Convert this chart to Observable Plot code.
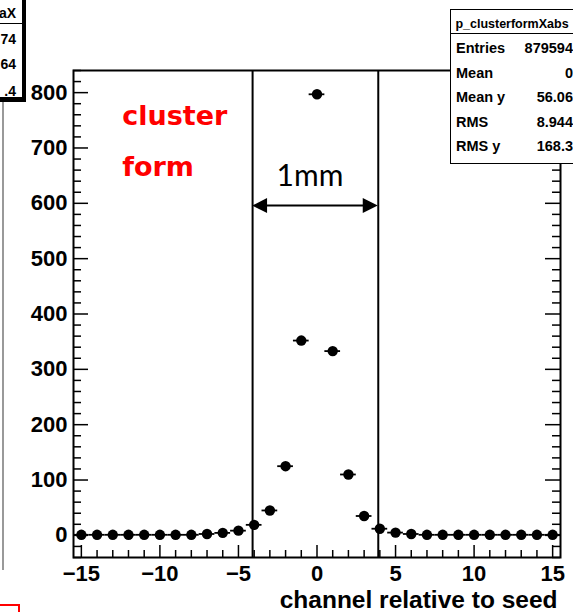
<!DOCTYPE html>
<html>
<head>
<meta charset="utf-8">
<script src="https://cdn.jsdelivr.net/npm/d3@7"></script>
<script src="https://cdn.jsdelivr.net/npm/@observablehq/plot@0.6"></script>
<style>
html, body { margin: 0; padding: 0; background: #fff; }
#wrap { position: relative; width: 573px; height: 612px; overflow: hidden; background: #fff;
  font-family: "Liberation Sans", Arial, sans-serif; font-weight: bold; color: #000; }
#chart { position: absolute; left: 0; top: 0; }
#stats { position: absolute; left: 450px; top: 9px; width: 140px; height: 155px; box-sizing: border-box;
  border: 1px solid #000; background: #fff; }
#stats .title { position: absolute; left: 0; top: 0; width: 122px; height: 23px; border-bottom: 1px solid #000;
  font-size: 12.5px; line-height: 29px; text-align: center; }
#stats .row { position: absolute; left: 5px; width: 117px; height: 24px; line-height: 24px; font-size: 14.5px; }
#stats .row .v { position: absolute; right: 0; top: 0; }
#leftbox { position: absolute; left: -100px; top: -10px; width: 123px; height: 108px; box-sizing: border-box;
  border: 1px solid #000; background: #fff; box-shadow: 3px 4px 0 #000; }
#leftbox .title { position: absolute; left: 0; top: 0; width: 121px; height: 32px; border-bottom: 1px solid #000; }
#leftbox .t { position: absolute; right: 6px; font-size: 14px; line-height: 20px; }
#gline { position: absolute; left: 2px; top: 102px; width: 1.5px; height: 468px; background: #999; }
#redbox { position: absolute; left: -5px; top: 604px; width: 25px; height: 20px; box-sizing: border-box; border: 2px solid #f00; }
</style>
</head>
<body>
<div id="wrap">
  <div id="chart"></div>
  <div id="gline"></div>
  <div id="leftbox"></div>
  <div id="stats"></div>
  <div id="redbox"></div>
</div>
<script>
// ---- data ----
const channels = [-15,-14,-13,-12,-11,-10,-9,-8,-7,-6,-5,-4,-3,-2,-1,0,1,2,3,4,5,6,7,8,9,10,11,12,13,14,15];
const counts   = [1,1,1,1,1,1,1,1,2.5,4.5,8.5,19,45,125,352,797,333,110,35,12,5,2.5,1,1,1,1,1,1,1,1,1];
const xTickLabels = [-15,-10,-5,0,5,10,15];
const yTickLabels = [0,100,200,300,400,500,600,700,800];
const xTitle = "channel relative to seed";
const mmEdges = [-4.1, 3.9];
const mmLabel = "1mm";
const mmLabelPos = [-0.45, 648];
const arrowY = [595];
const noteLines = ["cluster", "form"];
const noteX = [-12.4, -12.4];
const noteY = [757, 665];
const statsTitle = "p_clusterformXabs";
const statLabels = ["Entries", "Mean", "Mean y", "RMS", "RMS y"];
const statValues = ["879594", "0", "56.06", "8.944", "168.3"];
const leftBoxTitle = "aX";
const leftBoxValues = ["74", "64", ".4"];

// ---- layout ----
const W = 573, H = 612;
const mL = 73, mR = 13, mT = 70, mB = 55;
const pw = W - mL - mR, ph = H - mT - mB;

const data = channels.map((c, i) => ({c, v: counts[i]}));
const xMinor = d3.range(-15, 16).filter(d => !xTickLabels.includes(d));
const yMinor = d3.range(-40, 841, 20).filter(d => !yTickLabels.includes(d));

function mmArrow(index, scales) {
  const g = d3.create("svg:g");
  const y = scales.y(arrowY[0]);
  const xa = scales.x(mmEdges[0]), xb = scales.x(mmEdges[1]);
  const hl = 15, hw = 7.5;
  g.append("line").attr("x1", xa + hl - 1).attr("x2", xb - hl + 1)
    .attr("y1", y).attr("y2", y).attr("stroke", "#000").attr("stroke-width", 2);
  g.append("path").attr("d", `M${xa},${y}L${xa + hl},${y - hw}L${xa + hl},${y + hw}Z`).attr("fill", "#000");
  g.append("path").attr("d", `M${xb},${y}L${xb - hl},${y - hw}L${xb - hl},${y + hw}Z`).attr("fill", "#000");
  return g.node();
}

const chart = Plot.plot({
  width: W, height: H,
  marginLeft: mL, marginRight: mR, marginTop: mT, marginBottom: mB,
  style: {fontFamily: "'Liberation Sans', Arial, sans-serif", fontWeight: "bold", background: "transparent", color: "#000"},
  x: {domain: [-15.5, 15.5], axis: null, label: null},
  y: {domain: [-40, 840], axis: null, label: null},
  marks: [
    // inward ticks
    Plot.tickY(yTickLabels, {y: d => d, insetRight: pw - 15, strokeWidth: 1.5}),
    Plot.tickY(yMinor, {y: d => d, insetRight: pw - 8, strokeWidth: 1.5}),
    Plot.tickY(yTickLabels, {y: d => d, insetLeft: pw - 15, strokeWidth: 1.5}),
    Plot.tickY(yMinor, {y: d => d, insetLeft: pw - 8, strokeWidth: 1.5}),
    Plot.tickX(xTickLabels, {x: d => d, insetTop: ph - 12, strokeWidth: 1.5}),
    Plot.tickX(xMinor, {x: d => d, insetTop: ph - 7, strokeWidth: 1.5}),
    Plot.frame({stroke: "#000", strokeWidth: 2}),
    Plot.axisX({ticks: xTickLabels, tickSize: 0, tickPadding: 8, fontSize: 22, label: null}),
    Plot.axisY({ticks: yTickLabels, tickSize: 0, tickPadding: 6, fontSize: 22, label: null}),
    Plot.text([xTitle], {frameAnchor: "bottom-right", dx: -3, dy: 50, lineAnchor: "bottom", fontSize: 24.5, text: d => d}),
    // 1mm markers
    Plot.ruleX(mmEdges, {x: d => d, strokeWidth: 2}),
    mmArrow,
    Plot.text([mmLabel], {x: mmLabelPos[0], y: mmLabelPos[1], text: d => d, fontSize: 30, fontWeight: "normal",
      fontFamily: "Lato, 'Open Sans', sans-serif"}),
    Plot.text(noteLines, {x: (d, i) => noteX[i], y: (d, i) => noteY[i], text: d => d, textAnchor: "start",
      fill: "#ff0000", fontSize: 27, fontWeight: "bold", fontFamily: "'Comic Sans MS', 'DejaVu Sans', sans-serif"}),
    // data
    Plot.ruleY(data, {y: "v", x1: d => d.c - 0.5, x2: d => d.c + 0.5, strokeWidth: 1.8}),
    Plot.dot(data, {x: "c", y: "v", r: 5.2, fill: "#000", stroke: "none"})
  ]
});
document.getElementById("chart").appendChild(chart);

// stats box
const stats = document.getElementById("stats");
stats.innerHTML = `<div class="title">${statsTitle}</div>` +
  statLabels.map((l, i) => `<div class="row" style="top:${26 + i * 24.5}px"><span>${l}</span><span class="v">${statValues[i]}</span></div>`).join("");

// left clipped box
const lb = document.getElementById("leftbox");
const lbCenters = [22, 48, 73, 100];
lb.innerHTML = `<div class="title"></div>` +
  [leftBoxTitle, ...leftBoxValues].map((t, i) => `<div class="t" style="top:${lbCenters[i] - 10}px">${t}</div>`).join("");
</script>
</body>
</html>
